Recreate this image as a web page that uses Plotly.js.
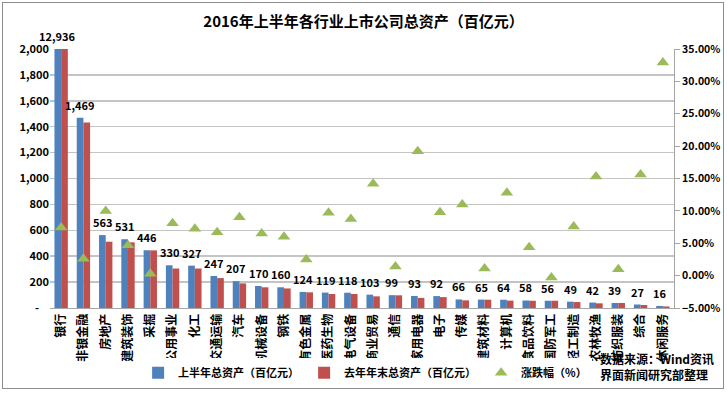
<!DOCTYPE html>
<html>
<head>
<meta charset="utf-8">
<script src="https://cdn.plot.ly/plotly-3.0.1.min.js"></script>
<style>
html,body{margin:0;padding:0;background:#fff;}
#wrap{position:relative;width:727px;height:393px;}
#chart{width:727px;height:393px;}
#frame{position:absolute;left:2px;top:2px;width:720px;height:385px;border:1.5px solid #8c8c8c;pointer-events:none;}
</style>
</head>
<body>
<div id="wrap"><div id="chart"></div><div id="frame"></div></div>
<script>
const categories = ["银行","非银金融","房地产","建筑装饰","采掘","公用事业","化工","交通运输","汽车","机械设备","钢铁","有色金属","医药生物","电气设备","商业贸易","通信","家用电器","电子","传媒","建筑材料","计算机","食品饮料","国防军工","轻工制造","农林牧渔","纺织服装","综合","休闲服务"];
const h1Assets = [12936,1469,563,531,446,330,327,247,207,170,160,124,119,118,103,99,93,92,66,65,64,58,56,49,42,39,27,16];
const lastYearAssets = [12039,1432,512,507,445,305,305,231,190,160,151,121,108,108,90,98,78,84,59,64,57,56,56,46,36,39,23,12];
const changePct = [7.45,2.6,10.0,4.7,0.3,8.1,7.25,6.7,9.0,6.5,6.0,2.5,9.7,8.75,14.2,1.4,19.2,9.8,11.0,1.1,12.8,4.4,-0.3,7.6,15.3,1.0,15.6,32.9];
const leftTicks = [0,200,400,600,800,1000,1200,1400,1600,1800,2000];
const leftTickText = ["-\u00a0\u00a0\u00a0\u00a0","200","400","600","800","1,000","1,200","1,400","1,600","1,800","2,000"];
const seriesNames = ["上半年总资产（百亿元）","去年年末总资产（百亿元）","涨跌幅（%）"];

const FONT = '"Noto Sans CJK SC", "Noto Sans", sans-serif';
const leftMax = 2000;

function fmt(v){ return v.toLocaleString('en-US'); }

const traces = [
  {type:'bar', name:'<b>'+seriesNames[0]+'</b>', x:categories, y:h1Assets, marker:{color:'#4F81BD'}, yaxis:'y'},
  {type:'bar', name:'<b>'+seriesNames[1]+'</b>', x:categories, y:lastYearAssets, marker:{color:'#C0504D'}, yaxis:'y'},
  {type:'scatter', mode:'markers', name:'<b>'+seriesNames[2]+'</b>', x:categories, y:changePct, yaxis:'y2',
   marker:{symbol:'triangle-up', size:11, color:'#9BBB59', line:{width:0}}}
];

const annotations = categories.map((c,i)=>({
  x:c, y:Math.min(h1Assets[i], leftMax), xref:'x', yref:'y',
  text:'<b>'+fmt(h1Assets[i])+'</b>', showarrow:false,
  xanchor:'center', yanchor:'bottom', xshift:-3.5, yshift:3,
  font:{family:FONT, size:11, color:'#000'}
}));
annotations.push({
  xref:'paper', yref:'paper', x:1.068, y:-0.155, xanchor:'right', yanchor:'top',
  align:'left', showarrow:false,
  text:'<b>数据来源：Wind资讯<br>界面新闻研究部整理</b>',
  font:{family:FONT, size:12, color:'#000'}
});

const layout = {
  width:727, height:393,
  margin:{l:50, r:53, t:49, b:85, autoexpand:false},
  paper_bgcolor:'#fff', plot_bgcolor:'#fff',
  font:{family:FONT, size:11, color:'#000'},
  title:{text:'<b>2016年上半年各行业上市公司总资产（百亿元）</b>', x:0.5, xanchor:'center', y:0.945, yanchor:'middle',
         font:{family:FONT, size:15, color:'#000'}},
  barmode:'group', bargap:0.4, bargroupgap:0,
  showlegend:true,
  legend:{orientation:'h', x:0.505, xanchor:'center', y:-0.25, yanchor:'middle',
          font:{family:FONT, size:11, color:'#000'}, itemwidth:30, tracegroupgap:0},
  xaxis:{type:'category', range:[-0.5, categories.length-0.5], tickangle:-90, showgrid:false, showline:true, linecolor:'#A6A6A6', linewidth:1, automargin:false,
         ticks:'', tickfont:{family:FONT, size:12, color:'#000', weight:'bold'}, fixedrange:true},
  yaxis:{range:[0,leftMax], tickvals:leftTicks, ticktext:leftTickText, showgrid:true, gridcolor:'#C4C4C4', gridwidth:1.5, automargin:false,
         showline:false, zeroline:false, ticks:'', tickfont:{family:FONT, size:11, color:'#000', weight:'bold'}, fixedrange:true},
  yaxis2:{overlaying:'y', side:'right', range:[-5,35], dtick:5, tick0:0, tickformat:'.2f', ticksuffix:'%', automargin:false,
          showgrid:false, zeroline:false, showline:true, linecolor:'#A6A6A6', linewidth:1,
          ticks:'outside', ticklen:5, tickcolor:'#A6A6A6', tickfont:{family:FONT, size:10.5, color:'#000', weight:'bold'}, fixedrange:true},
  annotations:annotations
};

Plotly.newPlot('chart', traces, layout, {staticPlot:true, displayModeBar:false});
</script>
</body>
</html>
